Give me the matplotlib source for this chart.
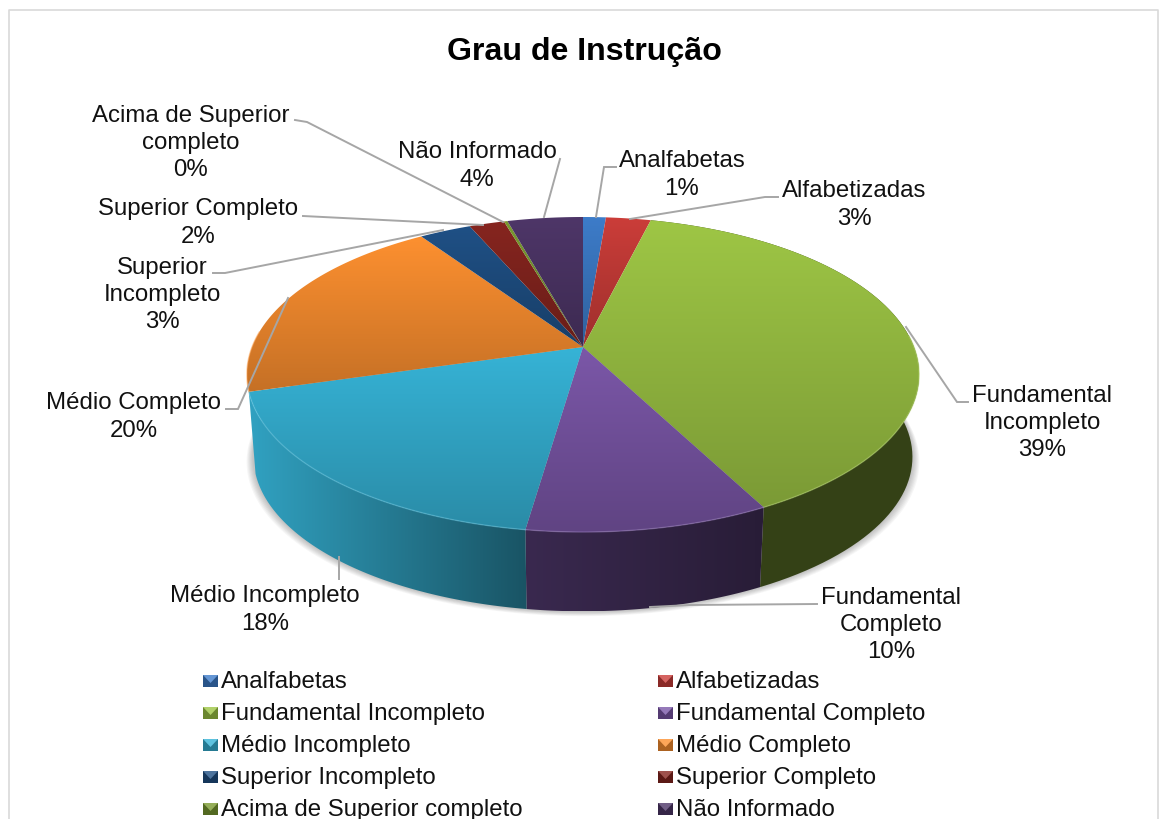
import matplotlib
matplotlib.use('Agg')
import matplotlib.pyplot as plt
from matplotlib.patches import Polygon
import numpy as np

plt.rcParams['font.family'] = ['Liberation Sans', 'DejaVu Sans']

# dados
categorias = ['Analfabetas', 'Alfabetizadas', 'Fundamental Incompleto', 'Fundamental Completo',
              'Médio Incompleto', 'Médio Completo', 'Superior Incompleto', 'Superior Completo',
              'Acima de Superior completo', 'Não Informado']
rotulos = ['Analfabetas', 'Alfabetizadas', 'Fundamental\nIncompleto', 'Fundamental\nCompleto',
           'Médio Incompleto', 'Médio Completo', 'Superior\nIncompleto', 'Superior Completo',
           'Acima de Superior\ncompleto', 'Não Informado']
valores = [1.3, 2.55, 38.52, 9.93, 18.2, 20.05, 2.95, 2.0, 0.2, 4.3]
cores = ['#3d7cc9', '#cb3d39', '#9ec645', '#7b57a8', '#36b3d6', '#fd9030', '#1f5085', '#86251f', '#7a9a30', '#4e3668']

# posicao dos rotulos e linhas de chamada (pixels)
pos_rotulos = [(682, 175), (854, 205), (1042, 423), (891, 625), (265, 610), (134, 417), (162, 295), (198, 223), (191, 143), (477, 166)]
chamadas = [[(596, 217), (604, 167), (616, 167)],
            [(630, 219), (765, 197), (778, 197)],
            [(906, 327), (957, 402), (968, 402)],
            [(650, 607), (690, 605), (817, 604)],
            [(339, 557), (339, 579)],
            [(288, 298), (238, 409), (226, 409)],
            [(443, 230), (225, 273), (213, 273)],
            [(483, 225), (303, 216)],
            [(503, 222), (307, 122), (295, 120)],
            [(544, 217), (560, 159)]]

cx, cy = 583, 347
R, a, b = 331, 152.7, 0.1746
prof = 83
esc = 0.98


def topo(t):
    x, y = np.sin(t), np.cos(t)
    return cx + R * x / (1 + b * y), cy - a * y / (1 + b * y)


def base(t):
    X, Y = topo(t)
    return cx + (X - cx) * esc, cy + (Y - cy) * esc + prof


def luz_lateral(x):
    return np.interp(x, [250, 526, 761, 920], [0.9, 0.47, 0.33, 0.33])


fig = plt.figure(figsize=(11.67, 8.19), dpi=100)
ax = fig.add_axes([0, 0, 1, 1])

# borda do grafico
ax.plot([9, 9, 1158, 1158], [819, 10, 10, 819], color='#d9d9d9', lw=1.2)

fracoes = np.cumsum([0] + valores) / sum(valores) * 2 * np.pi

# sombra
tt = np.linspace(0.6, 2 * np.pi - 1.2, 300)
bx, by = base(tt)
for d in [7, 6, 5, 4, 3, 2, 1]:
    ax.add_patch(Polygon(np.c_[cx + (bx - cx) * (1 + d / 330), by + d * 0.7], fc='black', ec='none', alpha=0.035, zorder=1))

# lateral, so as fatias da frente aparecem
for i, cor in enumerate(cores):
    t = np.linspace(fracoes[i], fracoes[i + 1], 80)
    if np.cos(t[-1]) > 0:
        continue
    X1, Y1 = topo(t)
    X2, Y2 = base(t)
    pts = np.r_[np.c_[X1, Y1], np.c_[X2, Y2][::-1]]
    x0, x1 = pts[:, 0].min(), pts[:, 0].max()
    xs = np.linspace(x0, x1, 200)
    rgb = np.array(matplotlib.colors.to_rgb(cor))
    img = np.clip(rgb[None, None, :] * luz_lateral(xs)[None, :, None], 0, 1)
    im = ax.imshow(img, extent=(x0, x1, pts[:, 1].max(), pts[:, 1].min()), aspect='auto', interpolation='bilinear', zorder=2)
    pat = Polygon(pts, fc='none', ec='none', transform=ax.transData)
    ax.add_patch(pat)
    im.set_clip_path(pat)

# topo
for i, cor in enumerate(cores):
    t = np.linspace(fracoes[i], fracoes[i + 1], 80)
    X1, Y1 = topo(t)
    pts = np.r_[[[cx, cy]], np.c_[X1, Y1]]
    y0, y1 = pts[:, 1].min(), pts[:, 1].max()
    ys = np.linspace(1, 0.78, 100)
    rgb = np.array(matplotlib.colors.to_rgb(cor))
    img = rgb[None, None, :] * ys[:, None, None]
    im = ax.imshow(img, extent=(pts[:, 0].min(), pts[:, 0].max(), y1, y0), aspect='auto', interpolation='bilinear', zorder=3)
    pat = Polygon(pts, fc='none', ec='none', transform=ax.transData)
    ax.add_patch(pat)
    im.set_clip_path(pat)
    # borda clara da frente
    borda = np.cos(t) < 0.1
    if borda.any():
        cl = rgb + (1 - rgb) * 0.2
        ax.plot(X1[borda], Y1[borda], color=cl, lw=1.0, alpha=0.5, zorder=4)

# linhas de chamada
for linha in chamadas:
    lx, ly = zip(*linha)
    ax.plot(lx, ly, color='#a6a6a6', lw=1.4, zorder=5, solid_joinstyle='miter')

# rotulos
for nome, v, (x, y) in zip(rotulos, valores, pos_rotulos):
    ax.text(x, y, f'{nome}\n{v:.0f}%', ha='center', va='center', fontsize=17.25, color='#111111',
            linespacing=1.31, zorder=6)

ax.text(584, 52, 'Grau de Instrução', ha='center', va='center', fontsize=23.1, fontweight='bold', color='black')

# legenda
for i, (nome, cor) in enumerate(zip(categorias, cores)):
    col, lin = i % 2, i // 2
    mx = 203 + col * 455
    my = 681 + lin * 32
    rgb = np.array(matplotlib.colors.to_rgb(cor))
    ax.add_patch(Polygon([(mx, my - 6), (mx + 15, my - 6), (mx + 15, my + 6), (mx, my + 6)], fc=rgb * 0.68, ec='none', zorder=3))
    ax.add_patch(Polygon([(mx, my - 6), (mx + 15, my - 6), (mx + 7.5, my + 2)], fc=rgb + (1 - rgb) * 0.2, ec='none', zorder=3))
    ax.text(mx + 18, my + 1, nome, ha='left', va='center', fontsize=17.25, color='#111111')

ax.set_xlim(0, 1167)
ax.set_ylim(819, 0)
ax.axis('off')
fig.savefig('out.png', dpi=100, facecolor='white')
